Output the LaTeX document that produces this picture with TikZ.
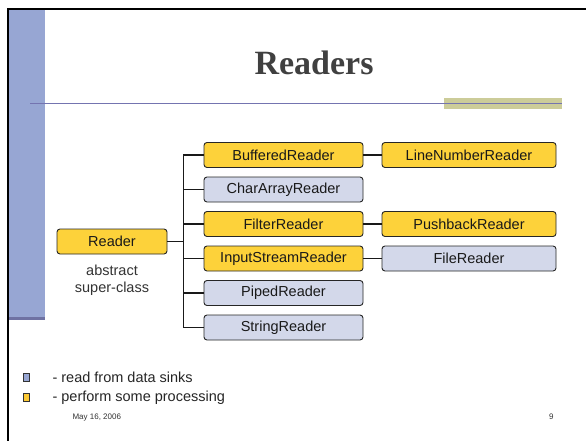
\documentclass[tikz,border=0pt]{standalone}
\usepackage{fontspec}
\setmainfont{Liberation Serif}
\setsansfont{Liberation Sans}
\usepackage{xcolor}
\usetikzlibrary{positioning, arrows.meta}

\definecolor{barblue}{HTML}{97A6D3}
\definecolor{bardark}{HTML}{6F72A3}
\definecolor{ruleblue}{HTML}{7474B0}
\definecolor{olive}{HTML}{CCCC99}
\definecolor{procfill}{HTML}{FDD23A}
\definecolor{sinkfill}{HTML}{D3D8EA}
\definecolor{titlegray}{HTML}{404040}

\begin{document}
\begin{tikzpicture}[x=1pt, y=-1pt]
            % Define styles for the boxes
            \tikzstyle{classbox} = [draw=black!85, rounded corners=3pt, line width=0.9pt, minimum height=25pt, inner sep=0pt, font=\sffamily\fontsize{14.5}{17}\selectfont, text=black!90]
            \tikzstyle{procbox} = [classbox, fill=procfill]
            \tikzstyle{sinkbox} = [classbox, fill=sinkfill]
            \tikzstyle{link} = [line width=1.4pt, black!90]
            \tikzstyle{keybox} = [draw=black!80, minimum width=6pt, minimum height=8pt, inner sep=0pt, line width=0.8pt]

            \useasboundingbox (0,0) rectangle (586,441);
            \fill[white] (0,0) rectangle (586,441);

            % Slide frame and decoration
            \fill[barblue] (9,10) rectangle (45,320);
            \fill[bardark] (9,317) rectangle (45,320);
            \draw[black, line width=2pt] (586,9) -- (8,9) -- (8,441);
            \fill[olive] (444,98) rectangle (562,109);
            \draw[ruleblue, line width=1pt] (30,103.5) -- (562,103.5);

            % Title
            \node [anchor=base, font=\bfseries\fontsize{34}{40}\selectfont, text=titlegray] (title) at (314,75) {Readers};

            % Base class
            \node [procbox, minimum width=110pt] (reader) at (112,241.5) {Reader};
            \node [align=center, font=\sffamily\fontsize{14.5}{17}\selectfont, text=black!80] (note) at (112,280) {abstract\\super-class};

            % First level subclasses
            \node [procbox, minimum width=159pt] (buffered) at (283.5,155) {BufferedReader};
            \node [sinkbox, minimum width=159pt] (chararray) at (283.5,189.5) {CharArrayReader};
            \node [procbox, minimum width=159pt] (filter) at (283.5,224) {FilterReader};
            \node [procbox, minimum width=159pt] (inputstream) at (283.5,258.5) {InputStreamReader};
            \node [sinkbox, minimum width=159pt] (piped) at (283.5,293) {PipedReader};
            \node [sinkbox, minimum width=159pt] (string) at (283.5,327.5) {StringReader};

            % Second level subclasses
            \node [procbox, minimum width=174pt] (linenumber) at (469,155) {LineNumberReader};
            \node [procbox, minimum width=174pt] (pushback) at (469,224) {PushbackReader};
            \node [sinkbox, minimum width=174pt] (file) at (469,258.5) {FileReader};

            % Tree connectors
            \coordinate (trunk) at (183.5,241.5);
            \draw [link] (reader) -- (trunk);
            \foreach \child in {buffered, chararray, filter, inputstream, piped, string}
                \draw [link] (trunk) |- (\child.west);
            \draw [link] (buffered) -- (linenumber);
            \draw [link] (filter) -- (pushback);
            \draw [link] (inputstream) -- (file);

            % Legend
            \node [keybox, fill=barblue] (sinkkey) at (26,377.5) {};
            \node [keybox, fill=procfill!90!orange] (prockey) at (26,397.5) {};
            \node [anchor=base west, font=\sffamily\fontsize{14.5}{17}\selectfont, text=black!85] (sinktext) at (49,382) {- read from data sinks};
            \node [anchor=base west, font=\sffamily\fontsize{14.5}{17}\selectfont, text=black!85] (proctext) at (49,401) {- perform some processing};

            % Footer
            \node [anchor=base west, font=\sffamily\fontsize{8}{9}\selectfont, text=black!80] (date) at (69,419) {May 16, 2006};
            \node [anchor=base east, font=\sffamily\fontsize{8}{9}\selectfont, text=black!80] (page) at (557,419) {9};
        \end{tikzpicture}
\end{document}
